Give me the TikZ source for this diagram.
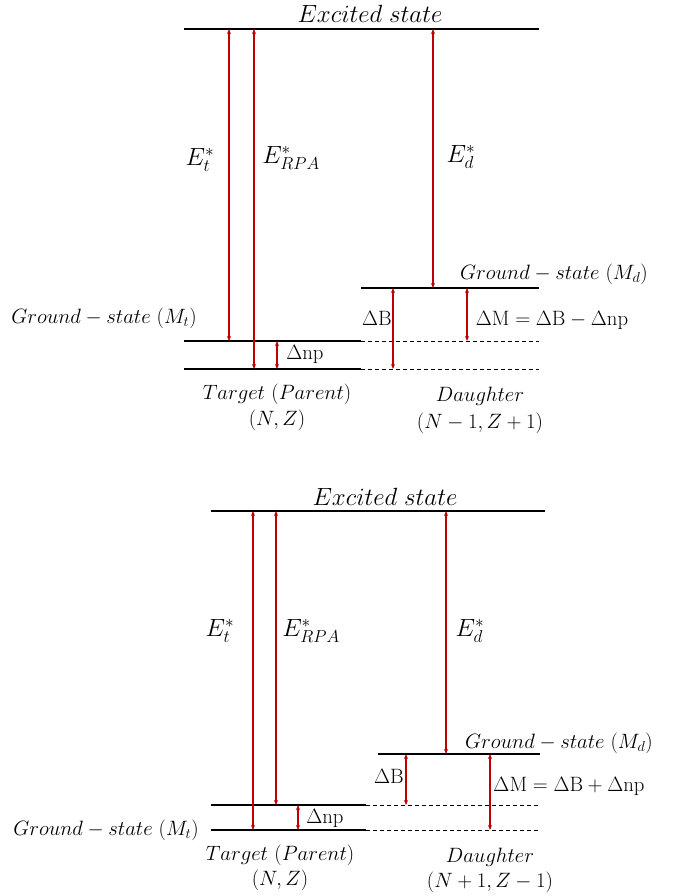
\documentclass[tikz,border=0pt]{standalone}
\usetikzlibrary{arrows.meta}
\definecolor{arr}{RGB}{192,0,0}
\begin{document}
\begin{tikzpicture}[x=1pt,y=-1pt,
  lvl/.style={line width=1.8pt,black},
  dlvl/.style={line width=0.8pt,black,dash pattern=on 4pt off 3pt},
  darr/.style={arr,line width=1.2pt,{Stealth[length=5pt,width=4pt]}-{Stealth[length=5pt,width=4pt]}},
  lbl/.style={font=\fontsize{21}{24}\selectfont,inner sep=0pt},
  elbl/.style={font=\fontsize{23}{26}\selectfont,inner sep=0pt},
  glbl/.style={font=\fontsize{20}{24}\selectfont,inner sep=0pt},
  xlbl/.style={font=\fontsize{23}{26}\selectfont,inner sep=0pt}]
\useasboundingbox (0,0) rectangle (680,896);
% ===== upper diagram =====
\coordinate (aEL) at (184,29); \coordinate (aER) at (539,29);
\coordinate (aT1L) at (184,341); \coordinate (aT1R) at (361,341); \coordinate (aT1E) at (539,341);
\coordinate (aT2L) at (184,369); \coordinate (aT2R) at (361,369); \coordinate (aT2E) at (539,369);
\coordinate (aDL) at (361,288); \coordinate (aDR) at (539,288);
\draw[lvl] (aEL) -- (aER);
\draw[lvl] (aT1L) -- (aT1R);
\draw[lvl] (aT2L) -- (aT2R);
\draw[lvl] (aDL) -- (aDR);
\draw[dlvl] (aT1R) -- (aT1E);
\draw[dlvl] (aT2R) -- (aT2E);
\foreach \n/\x/\ya/\yb in {aEt/229/29/341, aErpa/254/29/369, aEd/433/29/288, aDb/393/288/369, aDm/467/288/341, aDnp/277/341/369}{
  \coordinate (\n a) at (\x,\ya); \coordinate (\n b) at (\x,\yb);
  \draw[darr] (\n a) -- (\n b);
}
\node[xlbl] (aex) at (370,14) {$Excited\ state$};
\node[elbl] (aet) at (200,160) {$E_t^*$};
\node[elbl] (aer) at (291,158) {$E_{RPA}^*$};
\node[elbl] (aed) at (461,157) {$E_d^*$};
\node[glbl] (agd) at (554,274) {$Ground-state\ (M_d)$};
\node[glbl] (agt) at (104,318) {$Ground-state\ (M_t)$};
\node[lbl] (adb) at (377,318) {$\Delta\mathrm{B}$};
\node[lbl] (adm) at (552,320) {$\Delta\mathrm{M}=\Delta\mathrm{B}-\Delta\mathrm{np}$};
\node[lbl] (adn) at (305,354) {$\Delta\mathrm{np}$};
\node[lbl] (atp) at (277,394) {$Target\ (Parent)$};
\node[lbl] (anz) at (277,420) {$(N,Z)$};
\node[lbl] (ada) at (480,396) {$Daughter$};
\node[lbl] (adn2) at (480,423) {$(N-1,Z+1)$};
% ===== lower diagram =====
\coordinate (bEL) at (211,511); \coordinate (bER) at (545,511);
\coordinate (bT1L) at (211,805); \coordinate (bT1R) at (366,805); \coordinate (bT1E) at (540,805);
\coordinate (bT2L) at (211,830); \coordinate (bT2R) at (366,830); \coordinate (bT2E) at (540,830);
\coordinate (bDL) at (378,754); \coordinate (bDR) at (540,754);
\draw[lvl] (bEL) -- (bER);
\draw[lvl] (bT1L) -- (bT1R);
\draw[lvl] (bT2L) -- (bT2R);
\draw[lvl] (bDL) -- (bDR);
\draw[dlvl] (bT1R) -- (bT1E);
\draw[dlvl] (bT2R) -- (bT2E);
\foreach \n/\x/\ya/\yb in {bEt/253/511/830, bErpa/276/511/805, bEd/446/511/754, bDb/406/754/805, bDm/490/754/830, bDnp/298/805/830}{
  \coordinate (\n a) at (\x,\ya); \coordinate (\n b) at (\x,\yb);
  \draw[darr] (\n a) -- (\n b);
}
\node[xlbl] (bex) at (385,497) {$Excited\ state$};
\node[elbl] (bet) at (220,631) {$E_t^*$};
\node[elbl] (ber) at (311,631) {$E_{RPA}^*$};
\node[elbl] (bed) at (470,631) {$E_d^*$};
\node[glbl] (bgd) at (559,743) {$Ground-state\ (M_d)$};
\node[glbl] (bgt) at (106,830) {$Ground-state\ (M_t)$};
\node[lbl] (bdb) at (389,776) {$\Delta\mathrm{B}$};
\node[lbl] (bdm) at (569,786) {$\Delta\mathrm{M}=\Delta\mathrm{B}+\Delta\mathrm{np}$};
\node[lbl] (bdn) at (325,818) {$\Delta\mathrm{np}$};
\node[lbl] (btp) at (280,855) {$Target\ (Parent)$};
\node[lbl] (bnz) at (280,880) {$(N,Z)$};
\node[lbl] (bda) at (490,857) {$Daughter$};
\node[lbl] (bdn2) at (490,882) {$(N+1,Z-1)$};
\end{tikzpicture}
\end{document}
